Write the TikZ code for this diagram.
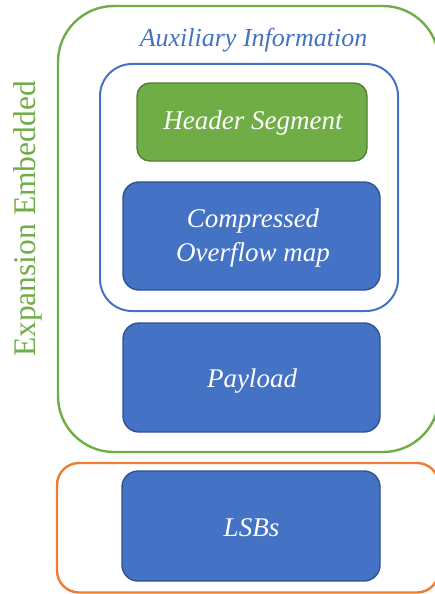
\documentclass[tikz,border=0pt]{standalone}
\usepackage{fontspec}
\setmainfont{Liberation Serif}
\definecolor{accgreen}{HTML}{70AD47}
\definecolor{accgreendark}{HTML}{507E32}
\definecolor{accblue}{HTML}{4472C4}
\definecolor{accbluedark}{HTML}{2F528F}
\definecolor{accorange}{HTML}{ED7D31}
\tikzset{
  frame/.style={draw, rectangle, line width=2.4pt},
  segbox/.style={rectangle, draw=accbluedark, fill=accblue, line width=1.4pt,
    rounded corners=16pt, text=white, align=center,
    font=\fontsize{27}{35}\selectfont\itshape},
  headbox/.style={segbox, draw=accgreendark, fill=accgreen, rounded corners=13pt},
  seglabel/.style={text=white, align=center, inner sep=0pt,
    font=\fontsize{27}{35}\selectfont\itshape},
}
\begin{document}
\begin{tikzpicture}[x=1pt, y=-1pt]
  \useasboundingbox (0,0) rectangle (435,594);
  % outer groups
  \node[frame, draw=accgreen, rounded corners=56pt,
        minimum width=381pt, minimum height=446pt] (embed) at (248.5,229) {};
  \node[frame, draw=accorange, rounded corners=22pt,
        minimum width=382pt, minimum height=129.5pt] (lsbgroup) at (248,527.75) {};
  \node[frame, draw=accblue, line width=2pt, rounded corners=32pt,
        minimum width=298pt, minimum height=247pt] (aux) at (249,187.5) {};
  % labels of the groups
  \node[anchor=base, text=accblue, font=\fontsize{26}{30}\selectfont\itshape, inner sep=0pt]
        (auxlabel) at (253.5,47) {Auxiliary Information};
  \node[anchor=base, rotate=90, text=accgreen, font=\fontsize{31.5}{36}\selectfont, inner sep=0pt]
        (embedlabel) at (35,219) {Expansion Embedded};
  % segments
  \node[headbox, minimum width=230pt, minimum height=78pt] (header) at (252,122) {};
  \node[segbox, minimum width=257pt, minimum height=108pt] (overflow) at (251.5,236) {};
  \node[segbox, minimum width=257pt, minimum height=109pt] (payload) at (251.5,377.5) {};
  \node[segbox, minimum width=258pt, minimum height=110pt] (lsbs) at (251,526) {};
  % segment texts, placed on their baselines
  \node[seglabel, anchor=base] (headertext) at (253,129) {Header Segment};
  \node[seglabel, anchor=base] (overflowtext1) at (253,227) {Compressed};
  \node[seglabel, anchor=base] (overflowtext2) at (253,261) {Overflow map};
  \node[seglabel, anchor=base] (payloadtext) at (252,387) {Payload};
  \node[seglabel, anchor=base] (lsbstext) at (251.5,536) {LSBs};
\end{tikzpicture}
\end{document}
